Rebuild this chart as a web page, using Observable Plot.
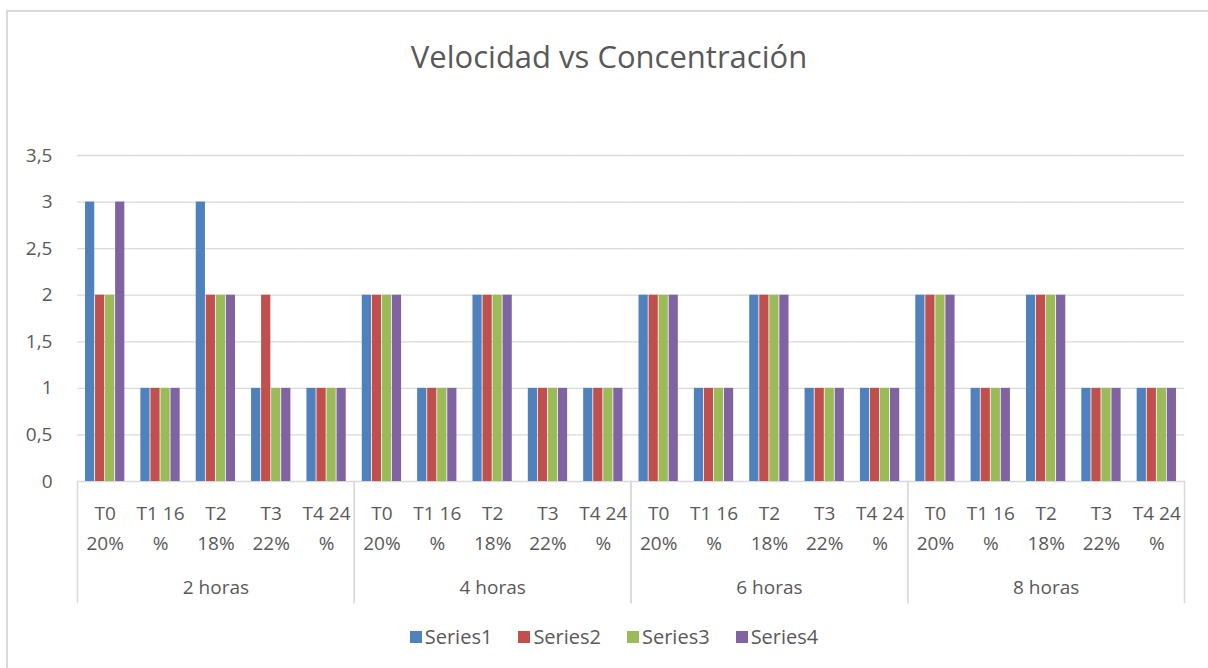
<!DOCTYPE html>
<html><head><meta charset="utf-8">
<script src="https://cdn.jsdelivr.net/npm/d3@7"></script>
<script src="https://cdn.jsdelivr.net/npm/@observablehq/plot@0.6"></script>
<style>
body{margin:0;background:#fff;font-family:"Open Sans",sans-serif;}
#wrap{position:relative;width:1208px;height:668px;overflow:hidden;}
#border{position:absolute;left:6px;top:10px;width:1220px;height:700px;border-left:2px solid #d9d9d9;border-top:2px solid #d9d9d9;}
#title{position:absolute;left:0;width:1218px;top:35px;text-align:center;font-size:31px;line-height:42px;color:#595959;}
#main{position:absolute;left:0;top:0;}
#axis{position:absolute;left:0;top:481px;}
#legend{position:absolute;left:0;width:1228px;top:623px;display:flex;justify-content:center;gap:26px;font-size:20px;line-height:28px;color:#595959;}
#legend .item{display:flex;align-items:center;gap:3px;}
#legend .sw{width:12px;height:12px;display:inline-block;}
</style></head>
<body>
<div id="wrap">
  <div id="border"></div>
  <div id="title">Velocidad vs Concentración</div>
  <div id="main"></div>
  <div id="axis"></div>
  <div id="legend"></div>
</div>
<script>
const groups = ["2 horas", "4 horas", "6 horas", "8 horas"];
const treatments = ["T0\n20%", "T1 16\n%", "T2\n18%", "T3\n22%", "T4 24\n%"];
const seriesNames = ["Series1", "Series2", "Series3", "Series4"];
const series1 = [3,1,3,1,1, 2,1,2,1,1, 2,1,2,1,1, 2,1,2,1,1];
const series2 = [2,1,2,2,1, 2,1,2,1,1, 2,1,2,1,1, 2,1,2,1,1];
const series3 = [2,1,2,1,1, 2,1,2,1,1, 2,1,2,1,1, 2,1,2,1,1];
const series4 = [3,1,2,1,1, 2,1,2,1,1, 2,1,2,1,1, 2,1,2,1,1];
const yTicks = [0, 0.5, 1, 1.5, 2, 2.5, 3, 3.5];
const colors = ["#4f81bd", "#c0504d", "#9bbb59", "#8064a2"];

const seriesValues = [series1, series2, series3, series4];
const cats = [];
groups.forEach(g => treatments.forEach(t => cats.push({group: g, tr: t, key: g + "|" + t})));
const keys = cats.map(c => c.key);
const rows = [];
cats.forEach((c, i) => seriesNames.forEach((s, si) => rows.push({key: c.key, series: s, value: seriesValues[si][i]})));

const fmt = d => String(d).replace(".", ",");
const txt = "#595959", gridC = "#d9d9d9";

const main = Plot.plot({
  width: 1208, height: 490,
  marginLeft: 77, marginRight: 24, marginTop: 155, marginBottom: 9,
  style: {fontFamily: "Open Sans", fontSize: "19px", color: txt, background: "transparent", overflow: "visible"},
  fx: {domain: keys, padding: 0, round: false, axis: null},
  x: {domain: seriesNames, paddingInner: 0.08, paddingOuter: 0.8, round: false, axis: null},
  y: {domain: [0, 3.5], axis: null},
  color: {domain: seriesNames, range: colors},
  marks: [
    Plot.gridY(yTicks, {stroke: gridC, strokeOpacity: 1, strokeWidth: 1.3}),
    Plot.axisY(yTicks, {tickSize: 0, tickPadding: 25, tickFormat: fmt, fill: txt, fontSize: 19, label: null}),
    Plot.barY(rows, {fx: "key", x: "series", y: "value", fill: "series"})
  ]
});
document.getElementById("main").append(main);

const axis = Plot.plot({
  width: 1208, height: 121,
  marginLeft: 77, marginRight: 24, marginTop: 0, marginBottom: 0,
  style: {fontFamily: "Open Sans", fontSize: "19px", color: txt, background: "transparent", overflow: "visible"},
  fx: {domain: groups, padding: 0, round: false, axis: null},
  x: {type: "band", domain: treatments, padding: 0, round: false, axis: null},
  marks: [
    Plot.frame({anchor: "left", stroke: gridC, strokeWidth: 1.5}),
    Plot.frame({anchor: "right", stroke: gridC, strokeWidth: 1.5}),
    Plot.text(cats, {fx: "group", x: "tr", text: "tr", frameAnchor: "top", lineAnchor: "middle", dy: 44, lineHeight: 1.58, fill: txt, fontSize: 19}),
    Plot.text(groups, {fx: d => d, text: d => d, frameAnchor: "top", lineAnchor: "middle", dy: 106, fill: txt, fontSize: 19})
  ]
});
document.getElementById("axis").append(axis);

const leg = document.getElementById("legend");
seriesNames.forEach((s, i) => {
  const it = document.createElement("span"); it.className = "item";
  const sw = document.createElement("span"); sw.className = "sw"; sw.style.background = colors[i];
  const lb = document.createElement("span"); lb.textContent = s;
  it.append(sw, lb); leg.append(it);
});
</script>
</body></html>
